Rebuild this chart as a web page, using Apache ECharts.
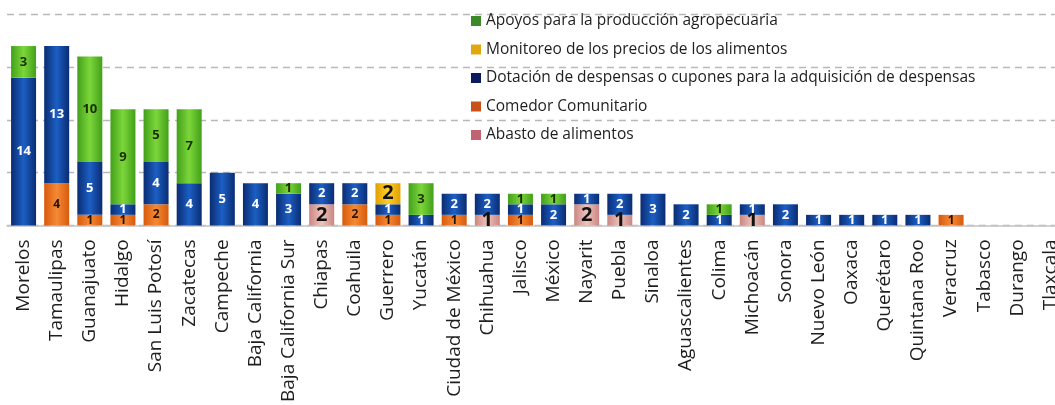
<!DOCTYPE html>
<html>
<head>
<meta charset="utf-8">
<script src="https://cdn.jsdelivr.net/npm/echarts@6/dist/echarts.min.js"></script>
<style>
html,body{margin:0;padding:0;background:#fff;overflow:hidden;width:1055px;height:405px;}
#c{width:1075px;height:405px;}
</style>
</head>
<body>
<div id="c"></div>
<script>
const states = ["Morelos","Tamaulipas","Guanajuato","Hidalgo","San Luis Potosí","Zacatecas","Campeche","Baja California","Baja California Sur","Chiapas","Coahuila","Guerrero","Yucatán","Ciudad de México","Chihuahua","Jalisco","México","Nayarit","Puebla","Sinaloa","Aguascalientes","Colima","Michoacán","Sonora","Nuevo León","Oaxaca","Querétaro","Quintana Roo","Veracruz","Tabasco","Durango","Tlaxcala"];
const abasto    = [0,0,0,0,0,0,0,0,0,2,0,0,0,0,1,0,0,2,1,0,0,0,1,0,0,0,0,0,0,0,0,0];
const comedor   = [0,4,1,1,2,0,0,0,0,0,2,1,0,1,0,1,0,0,0,0,0,0,0,0,0,0,0,0,1,0,0,0];
const dotacion  = [14,13,5,1,4,4,5,4,3,2,2,1,1,2,2,1,2,1,2,3,2,1,1,2,1,1,1,1,0,0,0,0];
const monitoreo = [0,0,0,0,0,0,0,0,0,0,0,2,0,0,0,0,0,0,0,0,0,0,0,0,0,0,0,0,0,0,0,0];
const apoyos    = [3,0,10,9,5,7,0,0,1,0,0,0,3,0,0,1,1,0,0,0,0,1,0,0,0,0,0,0,0,0,0,0];
const names = {
  apoyos: "Apoyos para la producción agropecuaria",
  monitoreo: "Monitoreo de los precios de los alimentos",
  dotacion: "Dotación de despensas o cupones para la adquisición de despensas",
  comedor: "Comedor Comunitario",
  abasto: "Abasto de alimentos"
};

function grad(edge, mid){
  return new echarts.graphic.LinearGradient(0,0,1,0,[
    {offset:0,color:edge},{offset:0.5,color:mid},{offset:1,color:edge}
  ]);
}
function ser(name, data, edge, mid, lbl){
  return {
    name:name, type:'bar', stack:'t', barWidth:25,
    data:data.map(v=>v===0?null:v),
    itemStyle:{color:grad(edge,mid)},
    label:Object.assign({show:true,position:'inside',fontFamily:'Open Sans',
      formatter:p=>p.value?String(p.value):''},lbl)
  };
}
const chart = echarts.init(document.getElementById('c'));
chart.setOption({
  animation:false,
  backgroundColor:'#fff',
  grid:{left:7,right:8,top:14.4,bottom:175,containLabel:false},
  legend:{
    orient:'vertical', left:466, top:7, itemWidth:10, itemHeight:10, itemGap:10.5,
    icon:'rect',
    textStyle:{fontFamily:'Open Sans',fontSize:15.5,color:'#1e1e1e',lineHeight:18},
    data:[
      {name:names.apoyos,itemStyle:{color:'#3a8a2a'}},
      {name:names.monitoreo,itemStyle:{color:'#e0a810'}},
      {name:names.dotacion,itemStyle:{color:'#0c1a5e'}},
      {name:names.comedor,itemStyle:{color:'#c8501a'}},
      {name:names.abasto,itemStyle:{color:'#c06472'}}
    ]
  },
  xAxis:{
    type:'category', data:states,
    axisLine:{lineStyle:{color:'#c4c4c4',width:1.5}},
    axisTick:{show:false},
    axisLabel:{rotate:90,interval:0,margin:14,fontFamily:'Open Sans',fontSize:19,color:'#1e1e1e'}
  },
  yAxis:{
    type:'value', min:0, max:20, interval:5,
    axisLabel:{show:false}, axisLine:{show:false}, axisTick:{show:false},
    splitLine:{lineStyle:{color:'#b8b8b8',type:[7,5],width:1.3}}
  },
  series:[
    ser(names.abasto, abasto, '#c98682', '#efc3bb', {color:'#111',fontSize:20,fontWeight:'bold'}),
    ser(names.comedor, comedor, '#d85a0c', '#f48a36', {color:'#2a1200',fontSize:12,fontWeight:'bold'}),
    ser(names.dotacion, dotacion, '#0a2c72', '#1c5fc4', {color:'#fff',fontSize:13,fontWeight:'bold'}),
    ser(names.monitoreo, monitoreo, '#e0a000', '#ffcf2a', {color:'#111',fontSize:20,fontWeight:'bold'}),
    ser(names.apoyos, apoyos, '#42a01a', '#7cd63a', {color:'#1a2e00',fontSize:13,fontWeight:'bold'})
  ]
});
</script>
</body>
</html>
